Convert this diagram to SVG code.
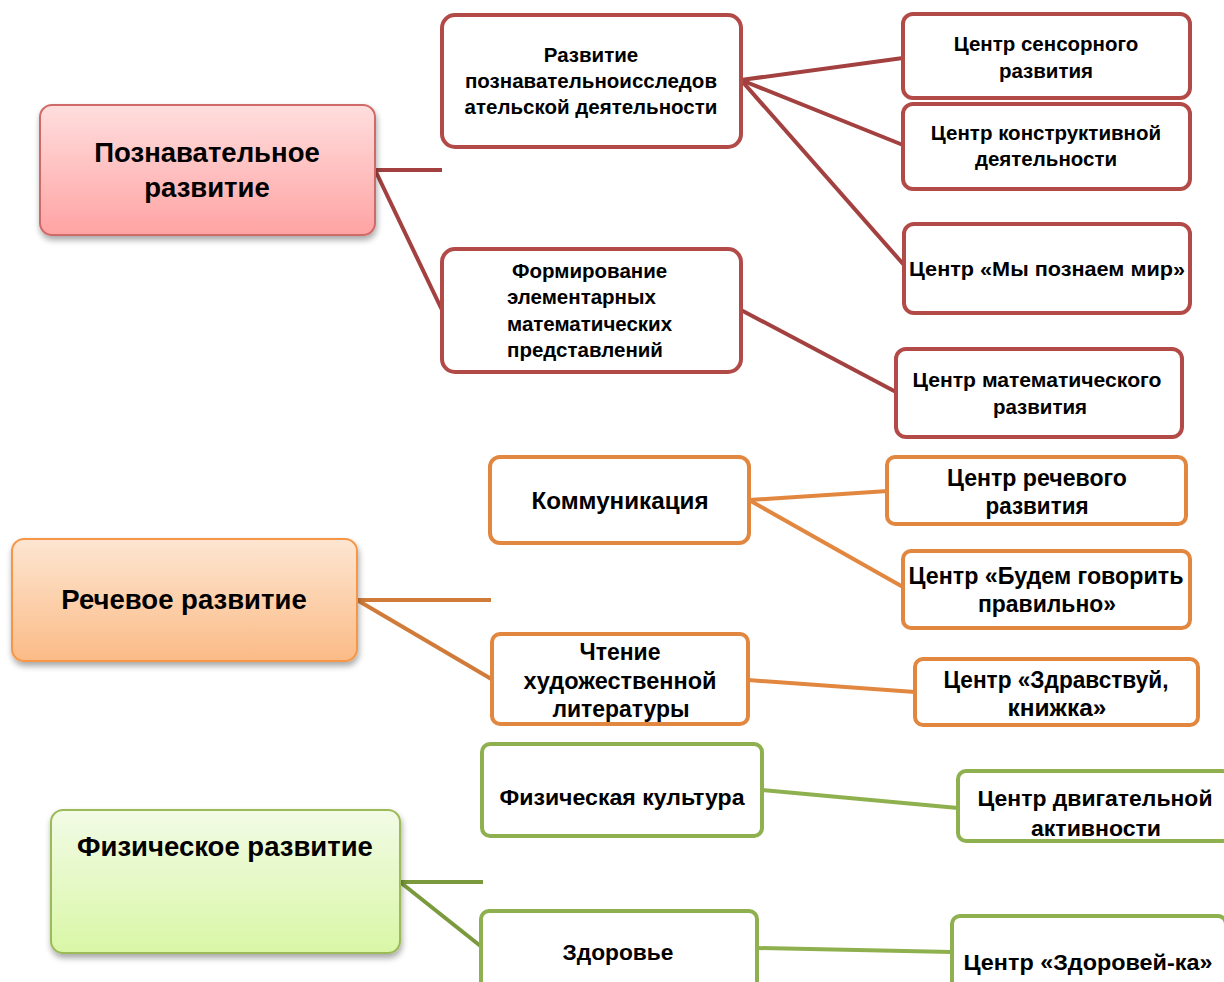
<svg xmlns="http://www.w3.org/2000/svg" width="1224" height="982" viewBox="0 0 1224 982">
<defs>
<linearGradient id="gRed" x1="0" y1="0" x2="0" y2="1"><stop offset="0" stop-color="#ffdede"/><stop offset="1" stop-color="#ffa3a3"/></linearGradient>
<linearGradient id="gOrange" x1="0" y1="0" x2="0" y2="1"><stop offset="0" stop-color="#fde6d2"/><stop offset="1" stop-color="#fbbb86"/></linearGradient>
<linearGradient id="gGreen" x1="0" y1="0" x2="0" y2="1"><stop offset="0" stop-color="#f2fbe6"/><stop offset="1" stop-color="#d9f7a6"/></linearGradient>
<filter id="sh" x="-10%" y="-10%" width="130%" height="130%"><feGaussianBlur in="SourceAlpha" stdDeviation="3"/><feOffset dx="1" dy="4"/><feComponentTransfer><feFuncA type="linear" slope="0.35"/></feComponentTransfer><feMerge><feMergeNode/><feMergeNode in="SourceGraphic"/></feMerge></filter>
</defs>
<style>
text{font-family:"Liberation Sans",Arial,sans-serif;font-weight:bold;fill:#000;text-anchor:middle}
.big{font-size:27.5px}
.sm{font-size:20.5px}
.os{font-size:24px}
.gs{font-size:22px}
.box{fill:#fff;stroke-width:4}
.r{stroke:#b24b48}
.o{stroke:#e2873f}
.g{stroke:#8eb04e}
.main{stroke-width:2}
.cr{stroke:#a2413f;stroke-width:4;fill:none}
.co{stroke:#d07b39;stroke-width:4;fill:none}
.cg{stroke:#7a9a3d;stroke-width:4;fill:none}
.co2{stroke:#e2873f;stroke-width:4;fill:none}
.cg2{stroke:#8eb04e;stroke-width:4;fill:none}
</style>
<g id="connectors">
<line class="cr" x1="375" y1="170" x2="442" y2="170"/>
<line class="cr" x1="375" y1="170" x2="442" y2="310"/>
<line class="cr" x1="741" y1="80" x2="903" y2="58"/>
<line class="cr" x1="741" y1="80" x2="903" y2="145"/>
<line class="cr" x1="741" y1="80" x2="904" y2="265"/>
<line class="cr" x1="741" y1="310" x2="896" y2="392"/>
<line class="co" x1="357" y1="600" x2="491" y2="600"/>
<line class="co" x1="357" y1="600" x2="493" y2="680"/>
<line class="co2" x1="749" y1="500" x2="888" y2="491"/>
<line class="co2" x1="749" y1="500" x2="903" y2="587"/>
<line class="co2" x1="748" y1="680" x2="915" y2="692"/>
<line class="cg" x1="400" y1="882" x2="483" y2="882"/>
<line class="cg" x1="400" y1="882" x2="483" y2="948"/>
<line class="cg2" x1="762" y1="790" x2="958" y2="808"/>
<line class="cg2" x1="757" y1="948" x2="952" y2="952"/>
</g>
<g id="n-poznav">
<rect x="40" y="105" width="335" height="130" rx="12" fill="url(#gRed)" stroke="#d06a68" class="main" filter="url(#sh)"/>
<text class="big" x="207" y="162">Познавательное</text>
<text class="big" x="207" y="197">развитие</text>
</g>
<g id="n-razv-poznav">
<rect class="box r" x="442" y="15" width="299" height="132" rx="13"/>
<text class="sm" x="591" y="62">Развитие</text>
<text class="sm" x="591" y="88">познавательноисследов</text>
<text class="sm" x="591" y="114">ательской деятельности</text>
</g>
<g id="n-sensor">
<rect class="box r" x="903" y="14" width="287" height="84" rx="10"/>
<text class="sm" x="1046" y="51">Центр сенсорного</text>
<text class="sm" x="1046" y="78">развития</text>
</g>
<g id="n-konstr">
<rect class="box r" x="903" y="104" width="287" height="85" rx="10"/>
<text class="sm" x="1046" y="140">Центр конструктивной</text>
<text class="sm" x="1046" y="166">деятельности</text>
</g>
<g id="n-mir">
<rect class="box r" x="904" y="224" width="286" height="89" rx="10"/>
<text class="sm" x="1047" y="276" textLength="276" lengthAdjust="spacingAndGlyphs">Центр «Мы познаем мир»</text>
</g>
<g id="n-femp">
<rect class="box r" x="442" y="249" width="299" height="123" rx="13"/>
<text class="sm" x="512" y="278" style="text-anchor:start">Формирование</text>
<text class="sm" x="507" y="304" style="text-anchor:start">элементарных</text>
<text class="sm" x="507" y="331" style="text-anchor:start">математических</text>
<text class="sm" x="507" y="357" style="text-anchor:start">представлений</text>
</g>
<g id="n-matem">
<rect class="box r" x="896" y="349" width="286" height="88" rx="10"/>
<text class="sm" x="1037" y="387" textLength="249" lengthAdjust="spacingAndGlyphs">Центр математического</text>
<text class="sm" x="1040" y="414">развития</text>
</g>
<g id="n-rech">
<rect x="12" y="539" width="345" height="122" rx="12" fill="url(#gOrange)" stroke="#f79646" class="main" filter="url(#sh)"/>
<text class="big" x="184" y="609">Речевое развитие</text>
</g>
<g id="n-komm">
<rect class="box o" x="490" y="457" width="259" height="86" rx="10"/>
<text class="os" x="620" y="509" textLength="177" lengthAdjust="spacingAndGlyphs">Коммуникация</text>
</g>
<g id="n-rechcentr">
<rect class="box o" x="887" y="457" width="299" height="67" rx="8"/>
<text class="os" x="1037" y="486" textLength="180" lengthAdjust="spacingAndGlyphs">Центр речевого</text>
<text class="os" x="1037" y="514" textLength="103" lengthAdjust="spacingAndGlyphs">развития</text>
</g>
<g id="n-budem">
<rect class="box o" x="903" y="551" width="287" height="77" rx="8"/>
<text class="os" x="1046" y="584" textLength="275" lengthAdjust="spacingAndGlyphs">Центр «Будем говорить</text>
<text class="os" x="1047" y="612" textLength="138" lengthAdjust="spacingAndGlyphs">правильно»</text>
</g>
<g id="n-chtenie">
<rect class="box o" x="492" y="634" width="256" height="90" rx="8"/>
<text class="os" x="620" y="660" textLength="81" lengthAdjust="spacingAndGlyphs">Чтение</text>
<text class="os" x="620" y="689" textLength="193" lengthAdjust="spacingAndGlyphs">художественной</text>
<text class="os" x="621" y="717" textLength="137" lengthAdjust="spacingAndGlyphs">литературы</text>
</g>
<g id="n-knizhka">
<rect class="box o" x="915" y="659" width="283" height="66" rx="8"/>
<text class="os" x="1056" y="688" textLength="225" lengthAdjust="spacingAndGlyphs">Центр «Здравствуй,</text>
<text class="os" x="1057" y="716" textLength="99" lengthAdjust="spacingAndGlyphs">книжка»</text>
</g>
<g id="n-fiz">
<rect x="51" y="810" width="349" height="143" rx="12" fill="url(#gGreen)" stroke="#9bbb59" class="main" filter="url(#sh)"/>
<text class="big" x="225" y="856">Физическое развитие</text>
</g>
<g id="n-fizkult">
<rect class="box g" x="482" y="744" width="280" height="92" rx="8"/>
<text class="gs" x="622" y="805" textLength="245" lengthAdjust="spacingAndGlyphs">Физическая культура</text>
</g>
<g id="n-dvig">
<rect class="box g" x="958" y="771" width="272" height="70" rx="8"/>
<text class="gs" x="1095" y="806" textLength="235" lengthAdjust="spacingAndGlyphs">Центр двигательной</text>
<text class="gs" x="1096" y="836" textLength="130" lengthAdjust="spacingAndGlyphs">активности</text>
</g>
<g id="n-zdorov">
<rect class="box g" x="481" y="911" width="276" height="80" rx="8"/>
<text class="gs" x="618" y="960" textLength="111" lengthAdjust="spacingAndGlyphs">Здоровье</text>
</g>
<g id="n-zdorovka">
<rect class="box g" x="952" y="916" width="274" height="80" rx="8"/>
<text class="gs" x="1088" y="970" textLength="249" lengthAdjust="spacingAndGlyphs">Центр «Здоровей-ка»</text>
</g>
</svg>
